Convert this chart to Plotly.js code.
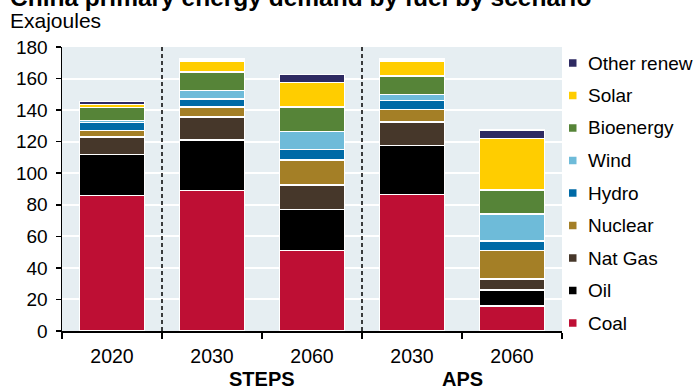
<!DOCTYPE html>
<html>
<head>
<meta charset="utf-8">
<script src="https://cdn.plot.ly/plotly-3.0.1.min.js"></script>
<style>html,body{margin:0;padding:0;background:#fff;}#chart{width:694px;height:389px;}</style>
</head>
<body>
<div id="chart"></div>
<script>
// ---- data ----
var yearLabels = ['2020', '2030', '2060', '2030', '2060'];
var scenarioOf = ['', 'STEPS', 'STEPS', 'APS', 'APS'];
var fuels = ['Coal', 'Oil', 'Nat Gas', 'Nuclear', 'Hydro', 'Wind', 'Bioenergy', 'Solar', 'Other renew'];
var coal    = [86, 89, 51, 86.5, 16];
var oil     = [26, 32, 26, 31, 10];
var natGas  = [11, 14.5, 15.5, 15, 7];
var nuclear = [4, 6.5, 16, 8, 18];
var hydro   = [5, 5, 6.5, 5.5, 6];
var wind    = [1.5, 5.5, 11.5, 4, 17];
var bio     = [8, 11.5, 15.5, 11.5, 15.5];
var solar   = [2, 7, 15.5, 9.5, 32.5];
var otherRenew = [2, 1.5, 5, 1.5, 5.5];
var colors = ['#BE0F34', '#000000', '#46372A', '#A47F26', '#006AA6', '#6EBBD9', '#568438', '#FFCD00', '#2E2A62'];

var series = [coal, oil, natGas, nuclear, hydro, wind, bio, solar, otherRenew];
var xs = yearLabels.map(function (_, i) { return i; });
var FONT = 'Liberation Sans, Arial, sans-serif';

// figure geometry (pixels)
var W = 694, H = 389;
var M = { l: 62, r: 132, t: 47, b: 58 };
var PW = W - M.l - M.r, PH = H - M.t - M.b;
function pxX(px) { return (px - M.l) / PW; }
function pxY(py) { return (H - M.b - py) / PH; }

var traces = series.map(function (vals, k) {
  return {
    type: 'bar', name: fuels[k], x: xs, y: vals, width: 0.65,
    marker: { color: colors[k], line: { color: '#ffffff', width: 1.5 } },
    hoverinfo: 'name+y', showlegend: false
  };
});

var annotations = [];
var shapes = [];

// scenario labels and separators
var seen = {};
scenarioOf.forEach(function (s, i) {
  if (!s) return;
  if (!seen[s]) seen[s] = [];
  seen[s].push(i);
});
Object.keys(seen).forEach(function (s) {
  var idx = seen[s];
  var c = (idx[0] + idx[idx.length - 1]) / 2;
  annotations.push({ text: '<b>' + s + '</b>', x: c, xref: 'x', y: -0.169, yref: 'paper', yanchor: 'middle',
    showarrow: false, font: { family: FONT, size: 20, color: '#000' } });
  shapes.push({ type: 'line', xref: 'x', yref: 'paper', x0: idx[0] - 0.5, x1: idx[0] - 0.5, y0: 0, y1: 1,
    line: { color: '#000', width: 1.5, dash: '4px,3px' } });
});

// legend (drawn as keys: small squares + labels), top entry = last fuel
var legTop = 63, legStep = 32.5, keyX0 = 569, keyX1 = 576.5, keyHalf = 3.75, textX = 586;
for (var j = 0; j < fuels.length; j++) {
  var k = fuels.length - 1 - j;
  var cy = legTop + j * legStep;
  shapes.push({ type: 'rect', xref: 'paper', yref: 'paper',
    x0: pxX(keyX0), x1: pxX(keyX1), y0: pxY(cy + keyHalf), y1: pxY(cy - keyHalf),
    fillcolor: colors[k], line: { width: 0 } });
  annotations.push({ text: fuels[k], xref: 'paper', yref: 'paper', x: pxX(textX), xanchor: 'left',
    y: pxY(cy), yanchor: 'middle', showarrow: false, font: { family: FONT, size: 19, color: '#000' } });
}

annotations.push({ text: '<b>China primary energy demand by fuel by scenario</b>', xref: 'paper', yref: 'paper',
  x: pxX(8), xanchor: 'left', y: 1.175, yanchor: 'middle', showarrow: false,
  font: { family: FONT, size: 24.5, color: '#000' } });
annotations.push({ text: 'Exajoules', xref: 'paper', yref: 'paper',
  x: pxX(8), xanchor: 'left', y: 1.093, yanchor: 'middle', showarrow: false,
  font: { family: FONT, size: 21, color: '#000' } });

var layout = {
  width: W, height: H,
  margin: M,
  paper_bgcolor: '#ffffff', plot_bgcolor: '#E6EEF2',
  barmode: 'stack', bargap: 0.35,
  font: { family: FONT, size: 19, color: '#000' },
  showlegend: false,
  xaxis: {
    range: [-0.5, xs.length - 0.5], tickvals: xs, ticktext: yearLabels,
    ticks: '', showgrid: false, zeroline: false,
    showline: true, linecolor: '#000', linewidth: 1.5,
    tickfont: { size: 19.5 }, ticklabelstandoff: 7,
    minor: { tickvals: xs.concat([xs.length]).map(function (v) { return v - 0.5; }), ticks: 'outside', ticklen: 6, tickcolor: '#000', tickwidth: 1.5, showgrid: false }
  },
  yaxis: {
    range: [0, 180], dtick: 20, tick0: 0,
    ticks: 'outside', ticklen: 5, tickcolor: '#000', tickwidth: 1.5,
    showline: true, linecolor: '#000', linewidth: 1.5,
    showgrid: true, gridcolor: '#ffffff', gridwidth: 2, zeroline: false,
    tickfont: { size: 19 }, ticklabelstandoff: 4
  },
  annotations: annotations,
  shapes: shapes
};

Plotly.newPlot('chart', traces, layout, { displayModeBar: false, staticPlot: true });
</script>
</body>
</html>
